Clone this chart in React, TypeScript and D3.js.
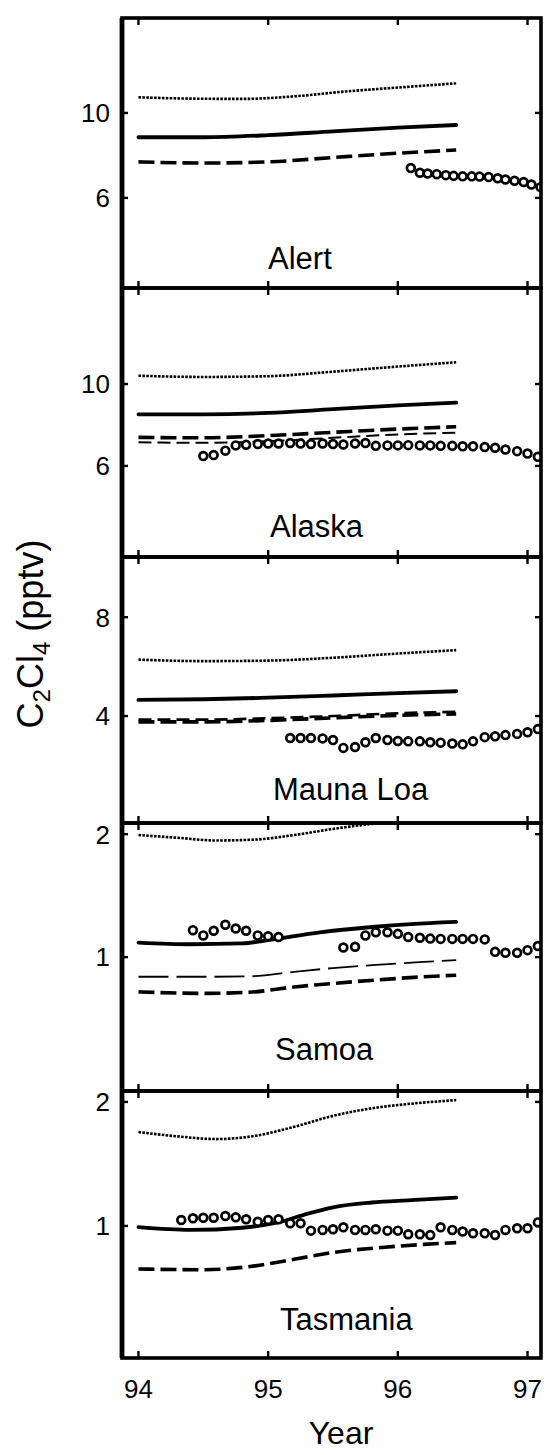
import React, { useEffect, useRef } from 'react';
import * as d3 from 'd3';

type Pt = [number, number];

// x = year (94 = 1994), y = C2Cl4 in pptv

// ---- Alert
const alertDotted: Pt[] = [[94.0, 10.99], [94.4, 10.9], [94.8, 10.88], [95.2, 11.05], [95.6, 11.38], [96.0, 11.65], [96.45, 11.95]];
const alertSolid: Pt[] = [[94.0, 8.64], [94.5, 8.64], [95.0, 8.75], [95.5, 8.95], [96.0, 9.15], [96.45, 9.3]];
const alertDashed: Pt[] = [[94.0, 7.45], [94.5, 7.4], [95.0, 7.45], [95.5, 7.65], [96.0, 7.85], [96.45, 8.0]];
const alertLongDash: Pt[] = [];
const alertObs: Pt[] = [
  [96.10, 7.18], [96.17, 6.98], [96.23, 6.95], [96.30, 6.92], [96.37, 6.88], [96.43, 6.85], [96.50, 6.83], [96.57, 6.83],
  [96.63, 6.82], [96.70, 6.8], [96.77, 6.75], [96.83, 6.7], [96.90, 6.65], [96.97, 6.6], [97.03, 6.5], [97.10, 6.4],
];

// ---- Alaska
const alaskaDotted: Pt[] = [[94.0, 10.53], [94.5, 10.45], [95.0, 10.5], [95.5, 10.8], [96.0, 11.15], [96.45, 11.45]];
const alaskaSolid: Pt[] = [[94.0, 8.28], [94.5, 8.28], [95.0, 8.35], [95.5, 8.55], [96.0, 8.75], [96.45, 8.9]];
const alaskaDashed: Pt[] = [[94.0, 7.17], [94.5, 7.15], [95.0, 7.25], [95.5, 7.4], [96.0, 7.55], [96.45, 7.66]];
const alaskaLongDash: Pt[] = [[94.0, 6.95], [94.5, 6.93], [95.0, 7.0], [95.5, 7.15], [96.0, 7.3], [96.45, 7.38]];
const alaskaObs: Pt[] = [
  [94.50, 6.38], [94.58, 6.42], [94.67, 6.6], [94.75, 6.82], [94.83, 6.85], [94.92, 6.88], [95.00, 6.9], [95.08, 6.9],
  [95.17, 6.92], [95.25, 6.9], [95.33, 6.88], [95.42, 6.9], [95.50, 6.88], [95.58, 6.86], [95.67, 6.9], [95.75, 6.92],
  [95.83, 6.8], [95.92, 6.82], [96.00, 6.82], [96.08, 6.83], [96.17, 6.82], [96.25, 6.82], [96.33, 6.8], [96.42, 6.8],
  [96.50, 6.78], [96.58, 6.78], [96.67, 6.75], [96.75, 6.72], [96.83, 6.65], [96.92, 6.58], [97.00, 6.48], [97.08, 6.35],
];

// ---- Mauna Loa
const maunaDotted: Pt[] = [[94.0, 5.94], [94.5, 5.88], [95.0, 5.9], [95.5, 6.02], [96.0, 6.2], [96.45, 6.35]];
const maunaSolid: Pt[] = [[94.0, 4.48], [94.5, 4.5], [95.0, 4.55], [95.5, 4.62], [96.0, 4.7], [96.45, 4.76]];
const maunaDashed: Pt[] = [[94.0, 3.84], [94.5, 3.84], [95.0, 3.88], [95.5, 3.95], [96.0, 4.02], [96.45, 4.06]];
const maunaLongDash: Pt[] = [[94.0, 3.9], [94.5, 3.9], [95.0, 3.94], [95.5, 4.0], [96.0, 4.08], [96.45, 4.12]];
const maunaObs: Pt[] = [
  [95.17, 3.43], [95.25, 3.43], [95.33, 3.43], [95.42, 3.42], [95.50, 3.38], [95.58, 3.2], [95.67, 3.22], [95.75, 3.33],
  [95.83, 3.43], [95.92, 3.38], [96.00, 3.36], [96.08, 3.35], [96.17, 3.35], [96.25, 3.33], [96.33, 3.32], [96.42, 3.3],
  [96.50, 3.28], [96.58, 3.35], [96.67, 3.45], [96.75, 3.47], [96.83, 3.5], [96.92, 3.53], [97.00, 3.57], [97.08, 3.65],
];

// ---- Samoa
const samoaDotted: Pt[] = [[94.0, 1.99], [94.3, 1.96], [94.6, 1.93], [94.9, 1.94], [95.2, 1.99], [95.5, 2.06], [95.8, 2.12], [96.1, 2.17], [96.45, 2.22]];
const samoaSolid: Pt[] = [[94.0, 1.085], [94.4, 1.075], [94.8, 1.08], [95.0, 1.1], [95.4, 1.15], [95.8, 1.185], [96.1, 1.205], [96.45, 1.22]];
const samoaDashed: Pt[] = [[94.0, 0.822], [94.5, 0.815], [94.85, 0.82], [95.2, 0.845], [95.5, 0.862], [95.9, 0.882], [96.2, 0.895], [96.45, 0.903]];
const samoaLongDash: Pt[] = [[94.0, 0.895], [94.5, 0.895], [94.85, 0.897], [95.2, 0.92], [95.5, 0.94], [95.9, 0.96], [96.2, 0.973], [96.45, 0.983]];
const samoaObs: Pt[] = [
  [94.42, 1.164], [94.50, 1.13], [94.58, 1.16], [94.67, 1.2], [94.75, 1.175], [94.83, 1.16], [94.92, 1.13], [95.00, 1.125], [95.08, 1.12],
  [95.58, 1.056], [95.67, 1.06], [95.75, 1.13], [95.83, 1.15], [95.92, 1.15], [96.00, 1.14], [96.08, 1.12], [96.17, 1.115],
  [96.25, 1.11], [96.33, 1.108], [96.42, 1.108], [96.50, 1.108], [96.58, 1.108], [96.67, 1.105], [96.75, 1.03], [96.83, 1.025],
  [96.92, 1.025], [97.00, 1.04], [97.08, 1.065],
];

// ---- Tasmania
const tasDotted: Pt[] = [[94.0, 1.69], [94.3, 1.65], [94.6, 1.625], [94.9, 1.655], [95.2, 1.74], [95.5, 1.85], [95.8, 1.93], [96.1, 1.98], [96.45, 2.02]];
const tasSolid: Pt[] = [[94.0, 0.993], [94.4, 0.978], [94.8, 0.99], [95.1, 1.024], [95.3, 1.07], [95.5, 1.11], [95.8, 1.14], [96.1, 1.155], [96.45, 1.172]];
const tasDashed: Pt[] = [[94.0, 0.786], [94.5, 0.783], [94.9, 0.8], [95.2, 0.83], [95.5, 0.862], [95.9, 0.888], [96.2, 0.902], [96.45, 0.911]];
const tasLongDash: Pt[] = [];
const tasObs: Pt[] = [
  [94.33, 1.034], [94.42, 1.044], [94.50, 1.047], [94.58, 1.047], [94.67, 1.057], [94.75, 1.05], [94.83, 1.038], [94.92, 1.024],
  [95.00, 1.034], [95.08, 1.038], [95.17, 1.015], [95.25, 1.015], [95.33, 0.974], [95.42, 0.978], [95.50, 0.982], [95.58, 0.993],
  [95.67, 0.978], [95.75, 0.978], [95.83, 0.982], [95.92, 0.974], [96.00, 0.974], [96.08, 0.955], [96.17, 0.955], [96.25, 0.951],
  [96.33, 0.993], [96.42, 0.978], [96.50, 0.969], [96.58, 0.96], [96.67, 0.96], [96.75, 0.951], [96.83, 0.978], [96.92, 0.987],
  [97.00, 0.987], [97.08, 1.02],
];

const stations = ['Alert', 'Alaska', 'Mauna Loa', 'Samoa', 'Tasmania'];
const yTickValues = [[6, 10], [6, 10], [4, 8], [1, 2], [1, 2]];
const yDomains: [number, number][] = [[3.49, 17.7], [3.4, 18.2], [1.89, 12.2], [0.47, 2.13], [0.478, 2.126]];
const xTickValues = [94, 95, 96, 97];
const dottedSeries = [alertDotted, alaskaDotted, maunaDotted, samoaDotted, tasDotted];
const solidSeries = [alertSolid, alaskaSolid, maunaSolid, samoaSolid, tasSolid];
const dashedSeries = [alertDashed, alaskaDashed, maunaDashed, samoaDashed, tasDashed];
const longDashSeries = [alertLongDash, alaskaLongDash, maunaLongDash, samoaLongDash, tasLongDash];
const obsSeries = [alertObs, alaskaObs, maunaObs, samoaObs, tasObs];

const W = 548;
const H = 1455;
const FONT = '"Liberation Sans", Arial, Helvetica, sans-serif';

const App: React.FC = () => {
  const svgRef = useRef<SVGSVGElement>(null);

  useEffect(() => {
    const svg = d3.select(svgRef.current);
    svg.selectAll('*').remove();

    const left = 122;
    const right = 541;
    // panel edges (top of each panel + final bottom)
    const edges = [18, 288, 557, 823, 1091, 1358];
    const labelX = [268, 270, 273, 275, 280];
    const labelPad = [19, 20, 23, 31, 28];
    // second dashed model: width / dash pattern per panel
    const secondDash = [
      { w: 1.8, dash: '30,8' },
      { w: 2.0, dash: '13,6' },
      { w: 2.6, dash: '13,6' },
      { w: 1.8, dash: '30,8' },
      { w: 1.8, dash: '30,8' },
    ];

    const x = d3.scaleLinear().domain([93.873, 97.104]).range([left, right]);

    stations.forEach((name, i) => {
      const top = edges[i];
      const bottom = edges[i + 1];
      const y = d3.scaleLog().domain(yDomains[i]).range([bottom, top]);
      const g = svg.append('g');

      const clipId = `clip-${i}`;
      g.append('clipPath').attr('id', clipId)
        .append('rect')
        .attr('x', left).attr('y', top)
        .attr('width', right - left).attr('height', bottom - top);

      const line = d3.line<Pt>()
        .x(d => x(d[0]))
        .y(d => y(d[1]))
        .curve(d3.curveMonotoneX);

      const plot = g.append('g').attr('clip-path', `url(#${clipId})`);

      // second dashed model
      if (longDashSeries[i].length) {
        plot.append('path')
          .attr('d', line(longDashSeries[i]))
          .attr('fill', 'none')
          .attr('stroke', '#000')
          .attr('stroke-width', secondDash[i].w)
          .attr('stroke-dasharray', secondDash[i].dash);
      }

      // thick short dashes
      plot.append('path')
        .attr('d', line(dashedSeries[i]))
        .attr('fill', 'none')
        .attr('stroke', '#000')
        .attr('stroke-width', 3.6)
        .attr('stroke-dasharray', '16,6');

      // solid
      plot.append('path')
        .attr('d', line(solidSeries[i]))
        .attr('fill', 'none')
        .attr('stroke', '#000')
        .attr('stroke-width', 3.8)
        .attr('stroke-linecap', 'round');

      // dotted
      plot.append('path')
        .attr('d', line(dottedSeries[i]))
        .attr('fill', 'none')
        .attr('stroke', '#000')
        .attr('stroke-width', 2.6)
        .attr('stroke-dasharray', '2.6,1.3');

      // observations
      plot.selectAll('circle.obs')
        .data(obsSeries[i])
        .enter()
        .append('circle')
        .attr('class', 'obs')
        .attr('cx', d => x(d[0]))
        .attr('cy', d => y(d[1]))
        .attr('r', 3.9)
        .attr('fill', '#fff')
        .attr('stroke', '#000')
        .attr('stroke-width', 2.7);

      // ticks: years on top and bottom, inward
      xTickValues.forEach(t => {
        g.append('line')
          .attr('x1', x(t)).attr('x2', x(t))
          .attr('y1', top).attr('y2', top + 7)
          .attr('stroke', '#000').attr('stroke-width', 2.4);
        g.append('line')
          .attr('x1', x(t)).attr('x2', x(t))
          .attr('y1', bottom).attr('y2', bottom - 7)
          .attr('stroke', '#000').attr('stroke-width', 2.4);
      });

      // y ticks, left and right
      yTickValues[i].forEach(t => {
        g.append('line')
          .attr('x1', left).attr('x2', left + 6)
          .attr('y1', y(t)).attr('y2', y(t))
          .attr('stroke', '#000').attr('stroke-width', 2.4);
        g.append('line')
          .attr('x1', right).attr('x2', right - 6)
          .attr('y1', y(t)).attr('y2', y(t))
          .attr('stroke', '#000').attr('stroke-width', 2.4);
        g.append('text')
          .attr('x', left - 12)
          .attr('y', y(t))
          .attr('dy', '0.36em')
          .attr('text-anchor', 'end')
          .attr('font-family', FONT)
          .attr('font-size', 26)
          .attr('fill', '#000')
          .text(t);
      });

      // frame
      g.append('rect')
        .attr('x', left).attr('y', top)
        .attr('width', right - left).attr('height', bottom - top)
        .attr('fill', 'none')
        .attr('stroke', '#000')
        .attr('stroke-width', 3.6);

      // station label
      g.append('text')
        .attr('x', labelX[i])
        .attr('y', bottom - labelPad[i])
        .attr('font-family', FONT)
        .attr('font-size', 31)
        .attr('fill', '#000')
        .text(name);
    });

    // thicker left edge
    svg.append('line')
      .attr('x1', left).attr('x2', left)
      .attr('y1', edges[0]).attr('y2', edges[5])
      .attr('stroke', '#000').attr('stroke-width', 4.8);

    // x tick labels
    xTickValues.forEach(t => {
      svg.append('text')
        .attr('x', x(t))
        .attr('y', 1398)
        .attr('text-anchor', 'middle')
        .attr('font-family', FONT)
        .attr('font-size', 26)
        .attr('fill', '#000')
        .text(t);
    });

    svg.append('text')
      .attr('x', 341)
      .attr('y', 1444)
      .attr('text-anchor', 'middle')
      .attr('font-family', FONT)
      .attr('font-size', 32)
      .attr('fill', '#000')
      .text('Year');

    // y axis title: C2Cl4 (pptv)
    const yt = svg.append('text')
      .attr('transform', 'translate(43,634) rotate(-90)')
      .attr('text-anchor', 'middle')
      .attr('font-family', FONT)
      .attr('font-size', 36)
      .attr('fill', '#000');
    yt.append('tspan').text('C');
    yt.append('tspan').attr('font-size', 24).attr('dy', 7).text('2');
    yt.append('tspan').attr('dy', -7).text('Cl');
    yt.append('tspan').attr('font-size', 24).attr('dy', 7).text('4');
    yt.append('tspan').attr('dy', -7).text(' (pptv)');
  }, []);

  return (
    <div style={{ position: 'absolute', left: 0, top: 0, width: W, height: H, background: '#fff' }}>
      <svg ref={svgRef} width={W} height={H} viewBox={`0 0 ${W} ${H}`} style={{ display: 'block' }} />
    </div>
  );
};

export default App;
